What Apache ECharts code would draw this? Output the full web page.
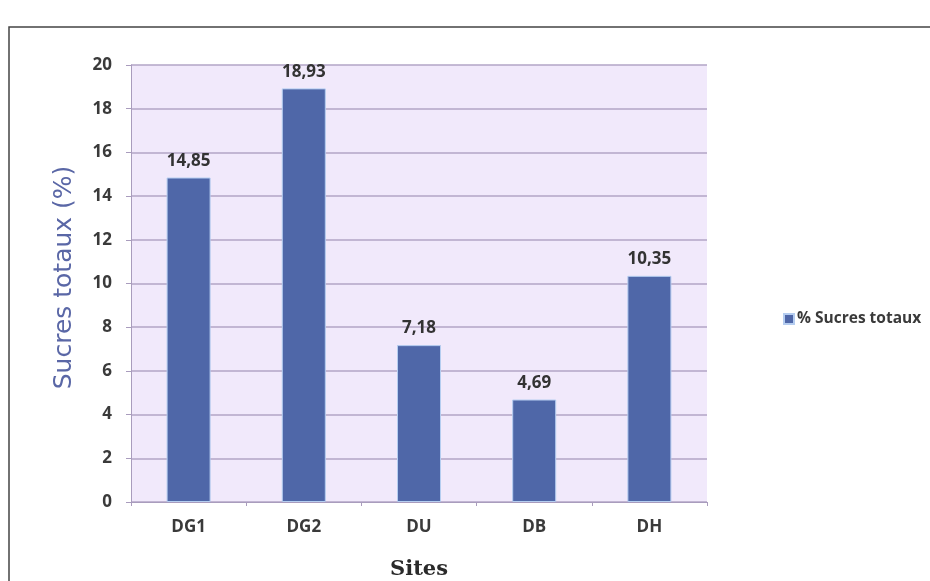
<!DOCTYPE html>
<html>
<head>
<meta charset="utf-8">
<style>
  html, body { margin: 0; padding: 0; background: #ffffff; }
  #chart { width: 930px; height: 581px; }
</style>
<script src="https://cdn.jsdelivr.net/npm/echarts@6/dist/echarts.min.js"></script>
</head>
<body>
<div id="chart"></div>
<script>
// Total sugar content per site
const sites = ['DG1', 'DG2', 'DU', 'DB', 'DH'];
const sucresTotaux = [14.85, 18.93, 7.18, 4.69, 10.35];
const yTicks = { min: 0, max: 20, interval: 2 };

const chart = echarts.init(document.getElementById('chart'));

const labelFont = '"Open Sans", "DejaVu Sans", sans-serif';

chart.setOption({
  animation: false,
  backgroundColor: '#ffffff',
  graphic: [{
    type: 'rect',
    shape: { x: 9, y: 27, width: 940, height: 600 },
    style: { fill: 'none', stroke: '#444444', lineWidth: 1.5 },
    silent: true
  }],
  grid: {
    left: 131, right: 223, top: 65, bottom: 79,
    containLabel: false,
    outerBoundsMode: 'none',
    show: true,
    backgroundColor: '#f1e9fb',
    borderWidth: 0
  },
  legend: {
    left: 778,
    top: 306,
    orient: 'vertical',
    itemWidth: 10,
    itemHeight: 10,
    itemGap: 4,
    icon: 'rect',
    textStyle: { color: '#3a3a3a', fontSize: 15.5, fontWeight: 'bold', fontFamily: labelFont, padding: [0, 0, 0, -2] },
    data: ['% Sucres totaux']
  },
  xAxis: {
    type: 'category',
    data: sites,
    name: 'Sites',
    nameLocation: 'middle',
    nameGap: 57,
    nameTextStyle: { color: '#2a2a2a', fontSize: 21, fontWeight: 'bold', fontFamily: '"DejaVu Serif", "Liberation Serif", serif' },
    axisLine: { show: true, lineStyle: { color: '#a99cbd', width: 1 } },
    axisTick: { show: true, length: 4, lineStyle: { color: '#a99cbd' } },
    axisLabel: { color: '#3a3a3a', fontSize: 17, fontWeight: 'bold', margin: 17, fontFamily: labelFont },
    splitLine: { show: false }
  },
  yAxis: {
    type: 'value',
    min: yTicks.min,
    max: yTicks.max,
    interval: yTicks.interval,
    name: 'Sucres totaux (%)',
    nameLocation: 'middle',
    nameGap: 54,
    nameTextStyle: { color: '#5a67a6', fontSize: 25, fontFamily: '"DejaVu Sans", sans-serif', padding: [0, 0, 0, 12] },
    axisLine: { show: true, lineStyle: { color: '#a99cbd', width: 1 } },
    axisTick: { show: true, length: 5, lineStyle: { color: '#a99cbd' } },
    axisLabel: { color: '#3a3a3a', fontSize: 17, fontWeight: 'bold', margin: 19, fontFamily: labelFont },
    splitLine: { show: true, lineStyle: { color: '#b2a5c6', width: 1.5 } }
  },
  series: [{
    name: '% Sucres totaux',
    type: 'bar',
    data: sucresTotaux,
    barWidth: 44,
    itemStyle: { color: '#4f67a8', borderColor: '#b5cdf0', borderWidth: 1 },
    label: {
      show: true,
      position: 'top',
      distance: 8,
      color: '#333333',
      fontSize: 17,
      fontWeight: 'bold',
      fontFamily: labelFont,
      formatter: p => p.value.toFixed(2).replace('.', ',')
    }
  }]
});
</script>
</body>
</html>
